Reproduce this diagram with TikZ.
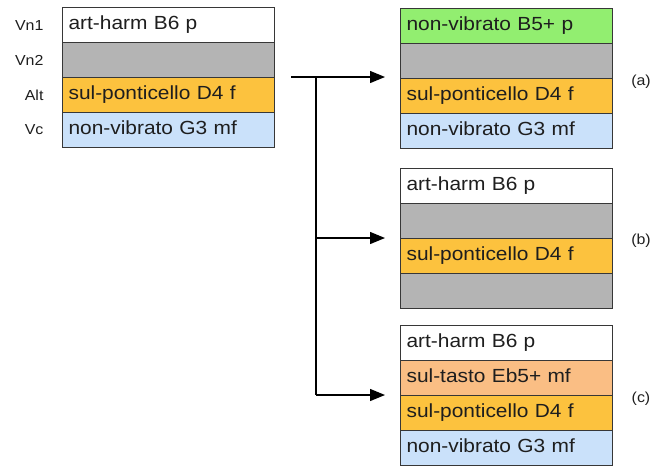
\documentclass[tikz,border=0pt]{standalone}
\usepackage{fontspec}
\setmainfont{Liberation Sans}[FakeStretch=1.1]
\usepackage{xcolor}
\usepackage{tikz}
\usetikzlibrary{arrows.meta, positioning}
\definecolor{edgegray}{RGB}{55,55,55}
\definecolor{inkdark}{RGB}{30,30,30}
\definecolor{restgray}{RGB}{180,180,180}
\definecolor{pontyellow}{RGB}{252,194,62}
\definecolor{vibblue}{RGB}{202,225,250}
\definecolor{harmwhite}{RGB}{255,255,255}
\definecolor{novibgreen}{RGB}{146,238,112}
\definecolor{tastopeach}{RGB}{250,190,132}

\begin{document}
\begin{tikzpicture}[
    x=1pt, y=-1pt,
    cell/.style={draw=edgegray, line width=1.1pt, minimum height=35pt,
        text width=200pt, inner xsep=6pt, inner ysep=0pt, align=left,
        text height=13pt, text depth=5pt, anchor=north west,
        font=\fontsize{19}{22}\selectfont, text=inkdark},
    voice/.style={font=\fontsize{14.5}{16}\selectfont, text=inkdark},
    tag/.style={font=\fontsize{14.5}{16}\selectfont, text=inkdark},
    flow/.style={line width=1.3pt, -{Triangle[length=15pt, width=12pt]}, shorten >=15pt}
]
\useasboundingbox (0,0) rectangle (652,466);

% Original chord
\foreach \i/\col/\txt in {1/harmwhite/art-harm B6 p, 2/restgray/, 3/pontyellow/sul-ponticello D4 f, 4/vibblue/non-vibrato G3 mf} {
    \node[cell, fill=\col] (l\i) at (62, {7+35*(\i-1)}) {\txt};
}

% Voice names
\node[voice, left=15pt of l1] (vn1) {Vn1};
\node[voice, left=15pt of l2] (vn2) {Vn2};
\node[voice, left=15pt of l3] (alt) {Alt};
\node[voice, left=15pt of l4] (vc) {Vc};

% Variant (a)
\foreach \i/\col/\txt in {1/novibgreen/non-vibrato B5+ p, 2/restgray/, 3/pontyellow/sul-ponticello D4 f, 4/vibblue/non-vibrato G3 mf} {
    \node[cell, fill=\col] (a\i) at (400, {8+35*(\i-1)}) {\txt};
}

% Variant (b)
\foreach \i/\col/\txt in {1/harmwhite/art-harm B6 p, 2/restgray/, 3/pontyellow/sul-ponticello D4 f, 4/restgray/} {
    \node[cell, fill=\col] (b\i) at (400, {168+35*(\i-1)}) {\txt};
}

% Variant (c)
\foreach \i/\col/\txt in {1/harmwhite/art-harm B6 p, 2/tastopeach/sul-tasto Eb5+ mf, 3/pontyellow/sul-ponticello D4 f, 4/vibblue/non-vibrato G3 mf} {
    \node[cell, fill=\col] (c\i) at (400, {325+35*(\i-1)}) {\txt};
}

% Variant tags
\node[tag] (taga) at (641,82) {(a)};
\node[tag] (tagb) at (641,241) {(b)};
\node[tag] (tagc) at (641,399) {(c)};

% Connectors
\coordinate (src) at ([xshift=16pt]l3.north east);
\coordinate (fork) at ([xshift=41pt]l3.north east);
\draw[flow] (src) -- (src -| a3.west);
\draw[line width=1.3pt] (fork) -- (fork |- c3.north);
\draw[flow] (fork |- b3.north) -- (b3.north west);
\draw[flow] (fork |- c3.north) -- (c3.north west);

\end{tikzpicture}
\end{document}
